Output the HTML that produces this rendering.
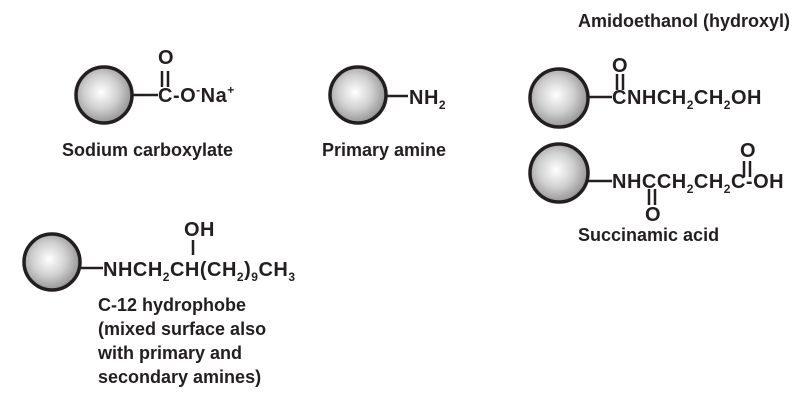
<!DOCTYPE html>
<html><head><meta charset="utf-8"><style>
html,body{margin:0;padding:0;background:#fff;}
svg{display:block;}
text{font-family:"Liberation Sans",Arial,sans-serif;font-weight:bold;fill:#231f20;}
</style></head><body>
<svg width="800" height="416" viewBox="0 0 800 416" xmlns="http://www.w3.org/2000/svg">
<defs>
<radialGradient id="g" cx="0.45" cy="0.45" r="0.6">
<stop offset="0" stop-color="#ffffff"/>
<stop offset="0.5" stop-color="#d0d0d0"/>
<stop offset="1" stop-color="#8a8a8a"/>
</radialGradient>
</defs>
<g stroke="#231f20" stroke-width="3.5" fill="url(#g)">
<circle cx="104" cy="95" r="28"/>
<circle cx="358" cy="95" r="28"/>
<circle cx="559" cy="98" r="29"/>
<circle cx="559" cy="173" r="29"/>
<circle cx="52" cy="262" r="28"/>
</g>
<g stroke="#231f20" stroke-width="2.5">
<line x1="132" y1="95" x2="158" y2="95"/>
<line x1="386" y1="96" x2="408" y2="96"/>
<line x1="588" y1="97" x2="612" y2="97"/>
<line x1="588" y1="181" x2="612" y2="181"/>
<line x1="80" y1="268" x2="103" y2="268"/>
<line x1="162" y1="71" x2="162" y2="87"/><line x1="168" y1="71" x2="168" y2="87"/>
<line x1="617" y1="74" x2="617" y2="90"/><line x1="623" y1="74" x2="623" y2="90"/>
<line x1="649" y1="189" x2="649" y2="205"/><line x1="655" y1="189" x2="655" y2="205"/>
<line x1="744" y1="161" x2="744" y2="177"/><line x1="750" y1="161" x2="750" y2="177"/>
<line x1="193" y1="240" x2="193" y2="255"/>
</g>
<g font-size="20" letter-spacing="0.5">
<text x="158" y="64">O</text>
<text x="158" y="102">C-O<tspan font-size="12" dy="-8">-</tspan><tspan dy="8">Na</tspan><tspan font-size="12" dy="-8">+</tspan></text>
<text x="409" y="104">NH<tspan font-size="12" dy="5">2</tspan></text>
<text x="612" y="72">O</text>
<text x="612" y="104">CNHCH<tspan font-size="12" dy="5">2</tspan><tspan dy="-5">CH</tspan><tspan font-size="12" dy="5">2</tspan><tspan dy="-5">OH</tspan></text>
<text x="740" y="157">O</text>
<text x="612" y="188">NHCCH<tspan font-size="12" dy="5">2</tspan><tspan dy="-5">CH</tspan><tspan font-size="12" dy="5">2</tspan><tspan dy="-5">C-OH</tspan></text>
<text x="645" y="221">O</text>
<text x="184" y="236">OH</text>
<text x="103" y="276">NHCH<tspan font-size="12" dy="5">2</tspan><tspan dy="-5">CH(CH</tspan><tspan font-size="12" dy="5">2</tspan><tspan dy="-5">)</tspan><tspan font-size="12" dy="5">9</tspan><tspan dy="-5">CH</tspan><tspan font-size="12" dy="5">3</tspan></text>
</g>
<g font-size="18">
<text x="62" y="156">Sodium carboxylate</text>
<text x="322" y="156">Primary amine</text>
<text x="578" y="27">Amidoethanol (hydroxyl)</text>
<text x="578" y="241">Succinamic acid</text>
<text x="98" y="311">C-12 hydrophobe</text>
<text x="98" y="335">(mixed surface also</text>
<text x="98" y="359">with primary and</text>
<text x="98" y="383">secondary amines)</text>
</g>
</svg>
</body></html>
